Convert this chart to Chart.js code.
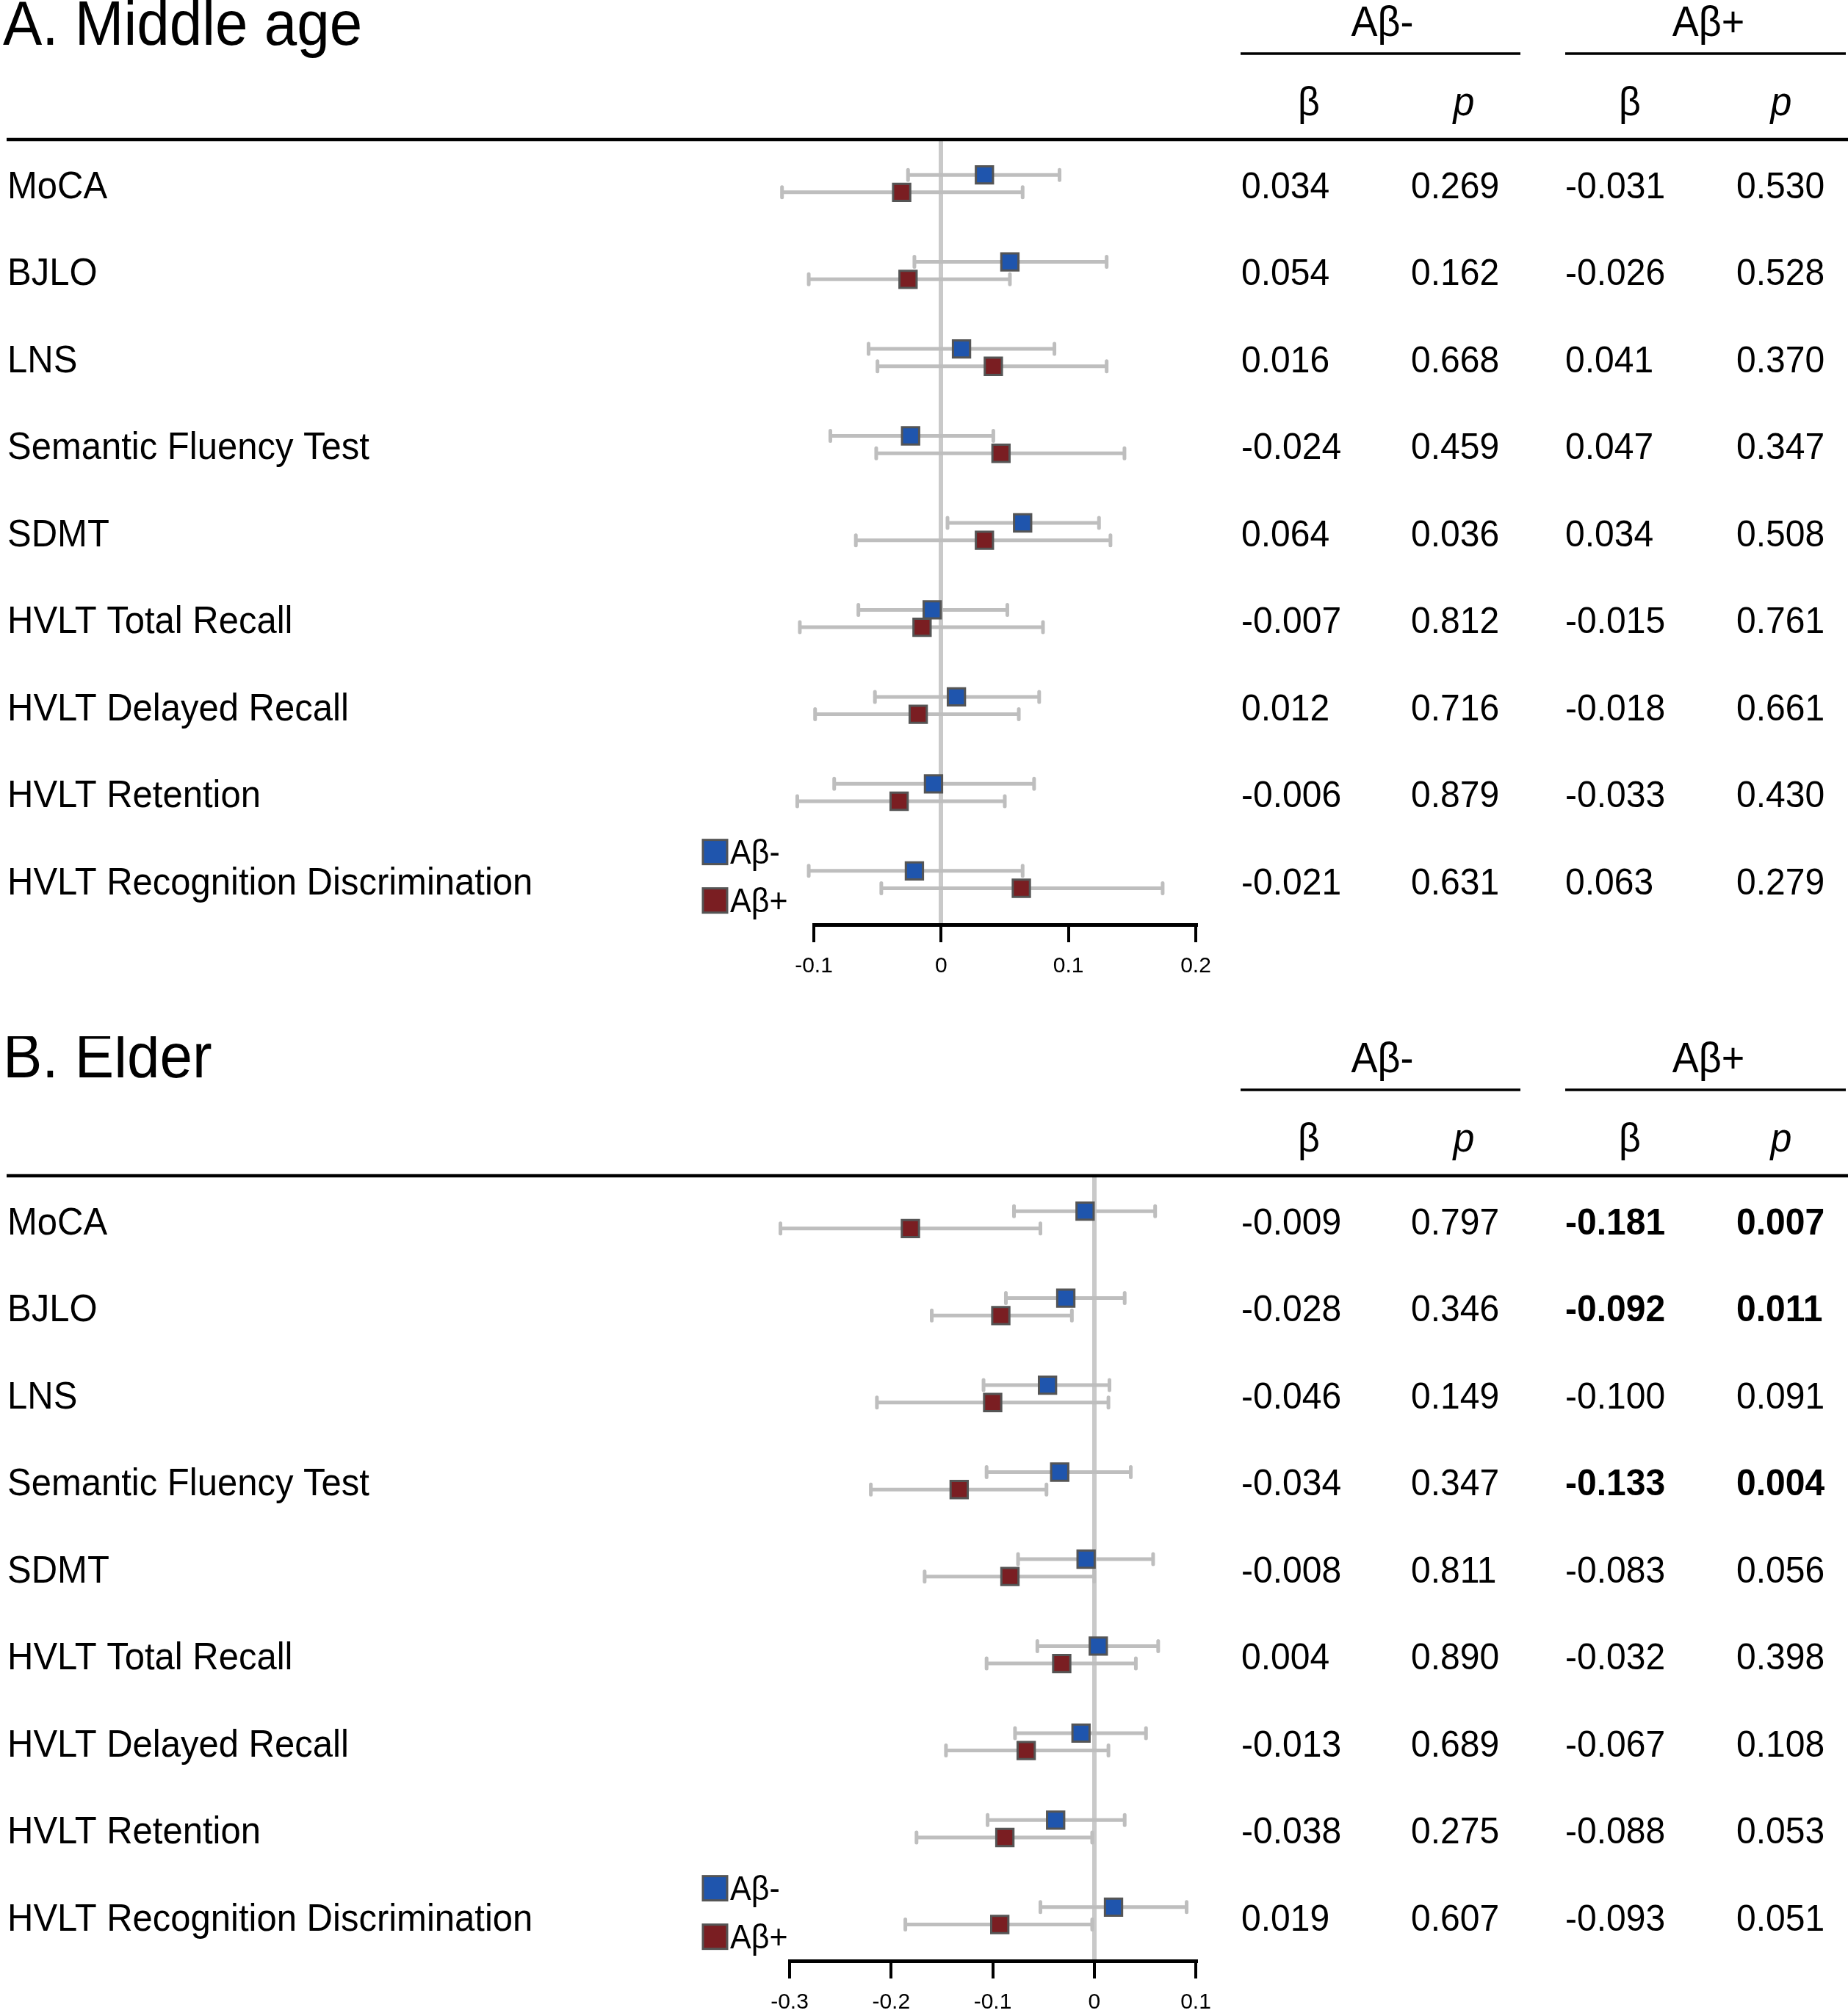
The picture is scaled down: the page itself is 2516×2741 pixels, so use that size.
<!DOCTYPE html>
<html>
<head>
<meta charset="utf-8">
<script src="https://cdn.jsdelivr.net/npm/chart.js@4.4.0/dist/chart.umd.min.js"></script>
<style>
  body { margin: 0; background: #fff; }
  canvas { display: block; }
</style>
</head>
<body>
<canvas id="chartA" width="2516" height="1411" style="width:2516px;height:1411px"></canvas>
<canvas id="chartB" width="2516" height="1330" style="width:2516px;height:1330px"></canvas>
<script>
var tests = ['MoCA', 'BJLO', 'LNS', 'Semantic Fluency Test', 'SDMT', 'HVLT Total Recall',
             'HVLT Delayed Recall', 'HVLT Retention', 'HVLT Recognition Discrimination'];
var groups = ['A\u03b2-', 'A\u03b2+'];

// A. Middle age
var betaNegA = [0.034, 0.054, 0.016, -0.024, 0.064, -0.007, 0.012, -0.006, -0.021];
var pNegA    = ['0.269', '0.162', '0.668', '0.459', '0.036', '0.812', '0.716', '0.879', '0.631'];
var loNegA   = [-0.026, -0.021, -0.057, -0.087, 0.005, -0.065, -0.052, -0.084, -0.104];
var hiNegA   = [0.093, 0.130, 0.089, 0.041, 0.124, 0.052, 0.077, 0.073, 0.064];
var betaPosA = [-0.031, -0.026, 0.041, 0.047, 0.034, -0.015, -0.018, -0.033, 0.063];
var pPosA    = ['0.530', '0.528', '0.370', '0.347', '0.508', '0.761', '0.661', '0.430', '0.279'];
var loPosA   = [-0.125, -0.104, -0.050, -0.051, -0.067, -0.111, -0.099, -0.113, -0.047];
var hiPosA   = [0.064, 0.054, 0.130, 0.144, 0.133, 0.080, 0.061, 0.050, 0.174];
var boldA    = [false, false, false, false, false, false, false, false, false];
var ticksA   = [-0.1, 0, 0.1, 0.2];

// B. Elder
var betaNegB = [-0.009, -0.028, -0.046, -0.034, -0.008, 0.004, -0.013, -0.038, 0.019];
var pNegB    = ['0.797', '0.346', '0.149', '0.347', '0.811', '0.890', '0.689', '0.275', '0.607'];
var loNegB   = [-0.079, -0.087, -0.109, -0.106, -0.075, -0.056, -0.078, -0.105, -0.053];
var hiNegB   = [0.060, 0.030, 0.015, 0.036, 0.058, 0.063, 0.051, 0.030, 0.091];
var betaPosB = [-0.181, -0.092, -0.100, -0.133, -0.083, -0.032, -0.067, -0.088, -0.093];
var pPosB    = ['0.007', '0.011', '0.091', '0.004', '0.056', '0.398', '0.108', '0.053', '0.051'];
var loPosB   = [-0.309, -0.160, -0.214, -0.220, -0.167, -0.106, -0.146, -0.175, -0.186];
var hiPosB   = [-0.053, -0.022, 0.014, -0.047, 0.000, 0.041, 0.014, -0.002, -0.002];
var boldB    = [true, true, false, true, false, false, false, false, false];
var ticksB   = [-0.3, -0.2, -0.1, 0, 0.1];

var FONT = "'Liberation Sans', Arial, Helvetica, sans-serif";
var BLUE = '#1f55ad';
var RED = '#7a1e22';

function fmt(v) {
  return v.toFixed(3);
}

// grey CI whiskers under the squares
var errorBars = {
  id: 'errorBars',
  beforeDatasetsDraw: function(chart) {
    var ctx = chart.ctx;
    var xs = chart.scales.x;
    ctx.save();
    ctx.strokeStyle = '#bebebe';
    ctx.lineWidth = 5;
    ctx.lineCap = 'round';
    chart.data.datasets.forEach(function(ds, d) {
      var meta = chart.getDatasetMeta(d);
      meta.data.forEach(function(pt, i) {
        var x1 = xs.getPixelForValue(ds.lo[i]);
        var x2 = xs.getPixelForValue(ds.hi[i]);
        var y = pt.y;
        ctx.beginPath();
        ctx.moveTo(x1, y); ctx.lineTo(x2, y);
        ctx.moveTo(x1, y - 7); ctx.lineTo(x1, y + 7);
        ctx.moveTo(x2, y - 7); ctx.lineTo(x2, y + 7);
        ctx.stroke();
      });
    });
    ctx.restore();
  }
};

// text a little taller than wide, like the source figure
function tallText(ctx, t, x, y) {
  ctx.save();
  ctx.translate(x, y);
  ctx.scale(1, 1.06);
  ctx.fillText(t, 0, 0);
  ctx.restore();
}

function tablePlugin(p) {
  return {
    id: 'table',
    afterDraw: function(chart) {
      var ctx = chart.ctx;
      var ys = chart.scales.y;
      function line(x1, y1, x2, y2) {
        ctx.beginPath(); ctx.moveTo(x1, y1); ctx.lineTo(x2, y2); ctx.stroke();
      }
      ctx.save();
      ctx.fillStyle = '#000';
      ctx.strokeStyle = '#000';
      ctx.textBaseline = 'alphabetic';

      ctx.textAlign = 'left';
      ctx.font = '80px ' + FONT;
      tallText(ctx, p.title, 4, p.titleY);

      ctx.textAlign = 'center';
      ctx.font = '54px ' + FONT;
      tallText(ctx, groups[0], 1882, 49);
      tallText(ctx, groups[1], 2326, 49);
      ctx.lineWidth = 3.5;
      line(1689, 73, 2070, 73);
      line(2131, 73, 2513, 73);

      ctx.font = '52px ' + FONT;
      tallText(ctx, '\u03b2', 1782, 157);
      tallText(ctx, '\u03b2', 2219, 157);
      ctx.font = 'italic 52px ' + FONT;
      tallText(ctx, 'p', 1993, 157);
      tallText(ctx, 'p', 2425, 157);
      ctx.lineWidth = 4.5;
      line(9, 190, 2516, 190);

      ctx.textAlign = 'left';
      for (var i = 0; i < tests.length; i++) {
        var y = ys.getPixelForValue(i) + 20;
        ctx.font = '49px ' + FONT;
        tallText(ctx, tests[i], 10, y);
        ctx.font = '48px ' + FONT;
        tallText(ctx, fmt(p.betaNeg[i]), 1690, y);
        tallText(ctx, p.pNeg[i], 1921, y);
        ctx.font = (p.bold[i] ? 'bold ' : '') + '48px ' + FONT;
        tallText(ctx, fmt(p.betaPos[i]), 2131, y);
        tallText(ctx, p.pPos[i], 2364, y);
      }

      // legend next to the last row
      var last = ys.getPixelForValue(tests.length - 1);
      var ly = [last - 37, last + 29];
      var lc = [BLUE, RED];
      ctx.font = '43px ' + FONT;
      ctx.lineWidth = 3;
      ctx.strokeStyle = '#555';
      for (var k = 0; k < 2; k++) {
        ctx.fillStyle = lc[k];
        ctx.fillRect(957, ly[k] - 17, 33, 33);
        ctx.strokeRect(957, ly[k] - 17, 33, 33);
        ctx.fillStyle = '#000';
        tallText(ctx, groups[k], 994, ly[k] + 15);
      }
      ctx.restore();
    }
  };
}

function createChart(id, p) {
  var ctx = document.getElementById(id).getContext('2d');
  var blue = p.betaNeg.map(function(v, i) { return {x: v, y: i - 0.1}; });
  var red = p.betaPos.map(function(v, i) { return {x: v, y: i + 0.1}; });
  var H = p.height;
  var axisH = 70;
  return new Chart(ctx, {
    type: 'scatter',
    data: {
      datasets: [{
        label: groups[0],
        data: blue,
        lo: p.loNeg,
        hi: p.hiNeg,
        backgroundColor: BLUE,
        borderColor: '#555',
        borderWidth: 3,
        pointStyle: 'rect',
        pointRadius: 16.5,
        order: 1
      }, {
        label: groups[1],
        data: red,
        lo: p.loPos,
        hi: p.hiPos,
        backgroundColor: RED,
        borderColor: '#555',
        borderWidth: 3,
        pointStyle: 'rect',
        pointRadius: 16.5,
        order: 0
      }]
    },
    options: {
      responsive: false,
      animation: false,
      devicePixelRatio: 1,
      events: [],
      layout: {
        padding: {left: p.left, right: 2516 - p.right, top: 190, bottom: H - 1259 - axisH}
      },
      plugins: {
        legend: {display: false},
        tooltip: {enabled: false}
      },
      scales: {
        x: {
          type: 'linear',
          min: p.ticks[0],
          max: p.ticks[p.ticks.length - 1],
          afterBuildTicks: function(scale) {
            scale.ticks = p.ticks.map(function(v) { return {value: v}; });
          },
          afterFit: function(scale) { scale.height = axisH; },
          border: {display: true, color: '#000', width: 5},
          grid: {
            drawOnChartArea: true,
            color: function(c) { return c.tick && c.tick.value === 0 ? '#c9c9c9' : 'rgba(0,0,0,0)'; },
            lineWidth: 6,
            tickColor: '#000',
            tickWidth: 4,
            tickLength: 24
          },
          ticks: {
            color: '#000',
            padding: 15,
            font: {family: FONT, size: 30},
            callback: function(v) { return v === 0 ? '0' : String(Math.round(v * 10) / 10); }
          }
        },
        y: {
          type: 'linear',
          display: false,
          reverse: true,
          min: -0.5065,
          max: 8.518
        }
      }
    },
    plugins: [errorBars, tablePlugin(p)]
  });
}

createChart('chartA', {
  title: 'A. Middle age', titleY: 61, height: 1411, left: 1108, right: 1628, ticks: ticksA,
  betaNeg: betaNegA, pNeg: pNegA, loNeg: loNegA, hiNeg: hiNegA,
  betaPos: betaPosA, pPos: pPosA, loPos: loPosA, hiPos: hiPosA, bold: boldA
});
createChart('chartB', {
  title: 'B. Elder', titleY: 56, height: 1330, left: 1075, right: 1628, ticks: ticksB,
  betaNeg: betaNegB, pNeg: pNegB, loNeg: loNegB, hiNeg: hiNegB,
  betaPos: betaPosB, pPos: pPosB, loPos: loPosB, hiPos: hiPosB, bold: boldB
});
</script>
</body>
</html>
